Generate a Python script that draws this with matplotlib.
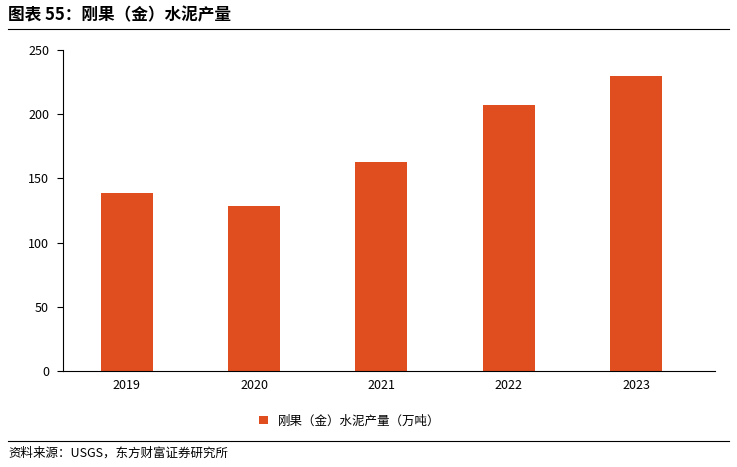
import matplotlib.pyplot as plt
from matplotlib.lines import Line2D

plt.rcParams["font.family"] = ["Noto Sans CJK SC", "DejaVu Sans"]

YEARS = ["2019", "2020", "2021", "2022", "2023"]
OUTPUT = [138.5, 128.5, 163, 207.5, 230]
BAR_COLOR = "#E04E1F"

fig = plt.figure(figsize=(7.37, 4.67), dpi=100)
ax = fig.add_axes([63 / 737, 1 - 371 / 467, 652 / 737, 321 / 467])
ax.bar(range(len(YEARS)), OUTPUT, width=0.41, color=BAR_COLOR, label="刚果（金）水泥产量（万吨）")
ax.set_xlim(-0.5, 4.62)
ax.set_ylim(0, 250)
ax.set_yticks(range(0, 251, 50))
ax.set_xticks(range(len(YEARS)))
ax.set_xticklabels(YEARS)
ax.tick_params(labelsize=9, length=0, pad=6)
ax.tick_params(axis="y", length=4, direction="out")
for side in ("top", "right"):
    ax.spines[side].set_visible(False)
ax.legend(loc="upper center", bbox_to_anchor=(0.44, -0.1), frameon=False, fontsize=9,
          handlelength=0.7, handleheight=0.7)

fig.text(8 / 737, 1 - 15 / 467, "图表 55：刚果（金）水泥产量", fontsize=12, fontweight="bold",
         va="center", ha="left")
fig.add_artist(Line2D([8 / 737, 729 / 737], [1 - 29 / 467] * 2, color="black", linewidth=0.8))
fig.add_artist(Line2D([8 / 737, 729 / 737], [1 - 441 / 467] * 2, color="black", linewidth=0.8))
fig.text(8 / 737, 1 - 453 / 467, "资料来源：USGS，东方财富证券研究所", fontsize=9, va="center", ha="left")

fig.savefig("out.png", dpi=100)
